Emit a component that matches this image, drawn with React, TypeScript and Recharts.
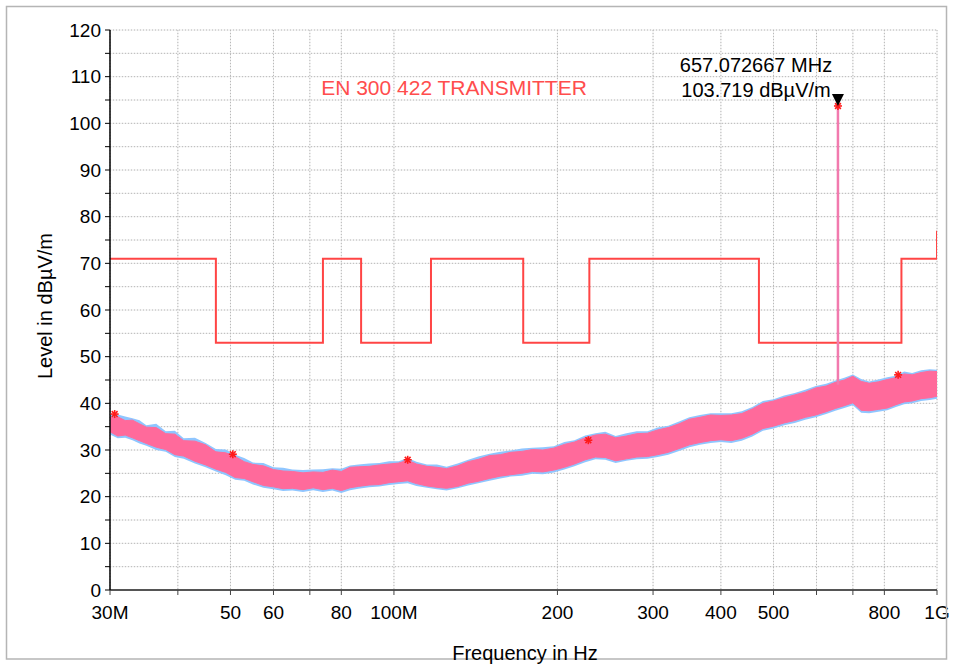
import React from 'react';
import {
  ComposedChart,
  Area,
  Line,
  Scatter,
  XAxis,
  YAxis,
  CartesianGrid,
} from 'recharts';

const FREQ_MHZ = [
  30, 31, 32, 33, 34, 35, 36.5, 38, 39.5, 41, 43, 45, 47, 49, 51, 53, 55, 57.5, 60, 62.5,
  65, 68, 71, 74, 77, 80, 83, 86, 90, 94, 98, 102, 106, 110, 115, 120, 125, 131, 137, 143,
  150, 157, 164, 172, 180, 188, 197, 206, 215, 225, 235, 245, 256, 268, 280, 293, 306, 320, 335, 350,
  366, 383, 400, 418, 437, 457, 478, 500, 523, 547, 572, 598, 625, 650, 675, 700, 725, 750, 780, 810,
  840, 870, 900, 935, 970, 1000,
];
const PINK_HI = [
  36.9, 37.1, 36.3, 36.4, 35.6, 34.9, 34.8, 33.5, 33.4, 32.0, 31.9, 31.1, 29.6, 29.4, 28.6, 27.5, 26.9, 26.6, 25.8, 25.5,
  25.4, 25.1, 25.3, 25.2, 25.7, 25.4, 26.3, 26.4, 26.5, 26.8, 27.0, 27.2, 27.8, 27.0, 26.5, 26.3, 26.0, 26.6, 27.5, 28.0,
  28.8, 29.0, 29.5, 29.7, 30.1, 30.0, 30.4, 31.2, 31.7, 32.6, 33.2, 33.4, 32.6, 33.0, 33.5, 33.6, 34.3, 34.8, 35.6, 36.6,
  37.0, 37.5, 37.4, 37.5, 37.8, 38.8, 40.0, 40.5, 41.2, 41.8, 42.4, 43.3, 43.7, 44.5, 45.0, 45.8, 44.7, 44.3, 44.6, 45.1,
  45.5, 46.3, 46.1, 46.6, 46.9, 46.8,
];
const PINK_LO = [
  33.9, 33.0, 33.2, 32.6, 32.0, 31.4, 30.6, 30.1, 29.0, 28.7, 27.6, 26.8, 25.9, 25.2, 24.1, 23.9, 23.2, 22.4, 22.1, 21.7,
  21.8, 21.5, 21.9, 21.5, 21.8, 21.3, 21.9, 22.2, 22.5, 22.6, 23.0, 23.2, 23.4, 22.8, 22.3, 22.0, 21.8, 22.2, 22.9, 23.3,
  23.9, 24.4, 24.7, 25.0, 25.4, 25.3, 25.7, 26.3, 27.0, 27.9, 28.5, 28.4, 27.7, 28.1, 28.5, 28.6, 29.0, 29.5, 30.3, 31.1,
  31.6, 32.0, 32.2, 32.0, 32.5, 33.4, 34.6, 35.1, 35.8, 36.3, 37.0, 37.5, 38.2, 38.9, 39.5, 40.1, 38.5, 38.4, 38.7, 39.0,
  39.7, 40.3, 40.5, 41.0, 41.2, 41.5,
];
const BLUE_HI = [
  37.5, 37.6, 37.2, 36.8, 36.4, 35.3, 35.6, 34.0, 34.1, 32.5, 32.6, 31.5, 30.2, 30.1, 29.0, 28.3, 27.3, 27.2, 26.3, 26.2,
  25.8, 25.7, 25.8, 25.9, 26.1, 26.0, 26.7, 26.9, 27.1, 27.2, 27.6, 27.6, 28.3, 27.5, 26.9, 26.9, 26.4, 27.1, 27.9, 28.6,
  29.2, 29.6, 29.9, 30.3, 30.5, 30.6, 30.8, 31.7, 32.1, 33.1, 33.6, 33.9, 33.0, 33.6, 34.0, 34.0, 34.8, 35.2, 36.1, 37.0,
  37.5, 37.9, 37.9, 37.9, 38.3, 39.2, 40.5, 40.9, 41.7, 42.2, 42.9, 43.7, 44.2, 44.9, 45.5, 46.2, 45.2, 44.7, 45.1, 45.6,
  45.9, 46.8, 46.5, 47.1, 47.3, 47.2,
];
const BLUE_LO = [
  33.3, 32.5, 32.6, 32.1, 31.4, 30.9, 30.0, 29.6, 28.5, 28.1, 27.1, 26.3, 25.4, 24.6, 23.6, 23.4, 22.6, 21.9, 21.6, 21.2,
  21.3, 21.0, 21.4, 21.0, 21.3, 20.8, 21.4, 21.7, 22.0, 22.2, 22.5, 22.7, 22.9, 22.3, 21.9, 21.6, 21.3, 21.8, 22.4, 22.9,
  23.4, 23.9, 24.3, 24.5, 24.9, 24.8, 25.2, 25.8, 26.5, 27.4, 28.0, 27.9, 27.2, 27.7, 28.0, 28.1, 28.5, 29.0, 29.8, 30.6,
  31.1, 31.5, 31.7, 31.5, 32.0, 32.9, 34.1, 34.6, 35.3, 35.8, 36.5, 37.0, 37.7, 38.4, 39.0, 39.6, 38.0, 37.9, 38.2, 38.5,
  39.2, 39.8, 40.0, 40.5, 40.7, 41.0,
];

// EN 300 422 transmitter limit (step)
const LIMIT_MHZ = [30, 47, 74, 87, 117, 173, 229, 470, 860, 1000];
const LIMIT_DB = [71, 53, 71, 53, 71, 53, 71, 53, 71, 77];

// peak markers
const MARK_MHZ = [30.6, 50.5, 106, 228, 657.072667, 848];
const MARK_DB = [37.7, 29.1, 27.9, 32.1, 103.719, 46.1];

const PEAK_MHZ = 657.072667;
const PEAK_DB = [44, 103.719];

const X_TICKS_MHZ = [30, 40, 50, 60, 70, 80, 100, 200, 300, 400, 500, 600, 700, 800, 1000];
const X_LABELS: Record<number, string> = {
  30: '30M', 50: '50', 60: '60', 80: '80', 100: '100M', 200: '200',
  300: '300', 400: '400', 500: '500', 800: '800', 1000: '1G',
};
const Y_TICKS = [0, 5, 10, 15, 20, 25, 30, 35, 40, 45, 50, 55, 60, 65, 70, 75, 80, 85, 90, 95, 100, 105, 110, 115, 120];

const FONT = '"Liberation Sans", Arial, sans-serif';

const traceData = FREQ_MHZ.map((f, i) => ({
  f: f * 1e6,
  pink: [PINK_LO[i], PINK_HI[i]],
  blue: [BLUE_LO[i], BLUE_HI[i]],
}));
const limitData = LIMIT_MHZ.map((f, i) => ({ f: f * 1e6, v: LIMIT_DB[i] }));
const markData = MARK_MHZ.map((f, i) => ({ f: f * 1e6, v: MARK_DB[i] }));
const peakData = PEAK_DB.map((v) => ({ f: PEAK_MHZ * 1e6, v }));

function Asterisk(props: any) {
  const { cx, cy } = props;
  const r = 4;
  const d = 2.9;
  return (
    <g stroke="#ff1a1a" strokeWidth={1.6}>
      <line x1={cx - r} y1={cy} x2={cx + r} y2={cy} />
      <line x1={cx} y1={cy - r} x2={cx} y2={cy + r} />
      <line x1={cx - d} y1={cy - d} x2={cx + d} y2={cy + d} />
      <line x1={cx - d} y1={cy + d} x2={cx + d} y2={cy - d} />
    </g>
  );
}

function Triangle(props: any) {
  const { cx, cy } = props;
  return <path d={`M${cx - 6},${cy - 12} L${cx + 6},${cy - 12} L${cx},${cy} Z`} fill="#000" />;
}

export default function App() {
  return (
    <div style={{ position: 'absolute', left: 0, top: 0, width: 953, height: 665, background: '#fff' }}>
      <ComposedChart
        width={953}
        height={665}
        data={traceData}
        margin={{ top: 30, right: 16, bottom: 35, left: 50 }}
        style={{ fontFamily: FONT }}
      >
        <CartesianGrid stroke="#ececec" strokeWidth={1} />
        <CartesianGrid stroke="#b8b8b8" strokeDasharray="1 2" strokeWidth={1} />
        <XAxis
          dataKey="f"
          type="number"
          scale="log"
          domain={[30e6, 1e9]}
          allowDataOverflow
          ticks={X_TICKS_MHZ.map((t) => t * 1e6)}
          tickFormatter={(v: number) => X_LABELS[Math.round(v / 1e6)] ?? ''}
          tick={{ fill: '#000', fontSize: 19, fontFamily: FONT }}
          tickSize={5}
          tickMargin={11}
          height={40}
          axisLine={{ stroke: '#555', strokeWidth: 2 }}
          tickLine={{ stroke: '#444' }}
        />
        <YAxis
          type="number"
          domain={[0, 120]}
          ticks={Y_TICKS}
          tickFormatter={(v: number) => (v % 10 === 0 ? String(v) : '')}
          tick={{ fill: '#000', fontSize: 19, fontFamily: FONT }}
          tickSize={5}
          tickMargin={4}
          width={60}
          axisLine={{ stroke: '#000', strokeWidth: 1.5 }}
          tickLine={{ stroke: '#000' }}
        />
        <Area
          dataKey="blue"
          type="linear"
          stroke="none"
          fill="#8fc6ff"
          fillOpacity={1}
          isAnimationActive={false}
        />
        <Area
          dataKey="pink"
          type="linear"
          stroke="#ff6a9b"
          strokeWidth={1}
          fill="#ff6a9b"
          fillOpacity={1}
          isAnimationActive={false}
        />
        <Line
          data={limitData}
          dataKey="v"
          type="stepAfter"
          stroke="#ff4545"
          strokeWidth={2}
          dot={false}
          isAnimationActive={false}
        />
        <Line
          data={peakData}
          dataKey="v"
          type="linear"
          stroke="#f27aae"
          strokeWidth={2.5}
          dot={false}
          isAnimationActive={false}
        />
        <Scatter data={markData} dataKey="v" shape={Asterisk} isAnimationActive={false} />
        <Scatter
          data={[{ f: PEAK_MHZ * 1e6, v: 103.719 }]}
          dataKey="v"
          shape={Triangle}
          isAnimationActive={false}
        />
      </ComposedChart>
      <svg
        width={953}
        height={665}
        style={{ position: 'absolute', left: 0, top: 0, pointerEvents: 'none', fontFamily: FONT }}
      >
        <rect x={6.5} y={6.5} width={940} height={652.5} fill="none" stroke="#b5b5b5" strokeWidth={1.5} />
        <text x={454} y={95} textAnchor="middle" fontSize={21} fill="#ff4d4d">
          EN 300 422 TRANSMITTER
        </text>
        <text x={756} y={72} textAnchor="middle" fontSize={20} fill="#000">
          657.072667 MHz
        </text>
        <text x={756} y={97} textAnchor="middle" fontSize={20} fill="#000">
          103.719 dBµV/m
        </text>
        <text
          x={0}
          y={0}
          transform="translate(52, 306) rotate(-90)"
          textAnchor="middle"
          fontSize={20}
          fill="#000"
        >
          Level in dBµV/m
        </text>
        <text x={525} y={660} textAnchor="middle" fontSize={20} fill="#000">
          Frequency in Hz
        </text>
      </svg>
    </div>
  );
}
